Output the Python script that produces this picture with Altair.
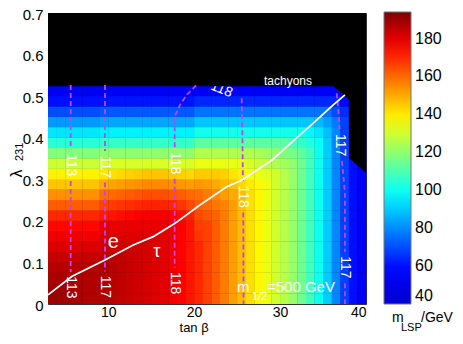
import altair as alt
import pandas as pd

FONT = "Liberation Sans"

# cell edges of the m_LSP map
TANB_EDGES = [3, 4, 5, 6, 7, 8, 9, 10, 11, 12, 13, 14, 15, 16, 17, 18, 19, 20, 21, 22,
              23, 24, 25, 26, 27, 28, 29, 30, 31, 32, 33, 34, 35, 36, 37, 38, 39, 40]
LAMBDA_EDGES = [0.0, 0.025, 0.05, 0.075, 0.1, 0.125, 0.15, 0.175, 0.2, 0.225, 0.25,
                0.275, 0.3, 0.325, 0.35, 0.375, 0.4, 0.425, 0.45, 0.475, 0.5, 0.525]

# m_LSP / GeV, rows from lambda=0 upwards, columns tan(beta)=3..39
M_LSP = [
    [190,190,189,188,187,187, 187,186,185,184,183,182,181,180,178,176,173, 170,166,162,157,152,147,142,138,134,130,126,121,115,108,100,90,79,68,60,54],
    [189,189,189,188,187,187, 187,186,185,184,183,182,181,180,178,176,173, 170,166,162,157,152,147,142,138,134,130,126,121,115,108,100,90,79,68,60,54],
    [188,188,188,188,187,187, 187,186,185,184,183,182,181,180,178,176,173, 170,166,162,157,152,147,142,138,134,130,126,121,115,108,100,90,79,68,60,54],
    [186,186,186,186,186,186, 187,186,185,184,183,182,181,180,178,176,173, 170,166,162,157,152,147,142,138,134,130,126,121,115,108,100,90,79,68,60,54],
    [184,184,184,184,184,184, 185,185,185,184,183,182,181,180,178,176,173, 170,166,162,157,152,147,142,138,134,130,126,121,115,108,100,90,79,68,60,54],
    [181,181,181,181,181,181, 183,183,183,183,183,182,181,180,178,176,173, 170,166,162,157,152,147,142,138,134,130,126,121,115,108,100,90,79,68,60,54],
    [178,178,178,178,178,178, 181,181,181,181,181,181,181,180,178,176,173, 168,166,162,157,152,147,142,138,134,130,126,121,115,108,100,90,79,68,60,54],
    [175,175,175,175,175,175, 179,179,179,179,179,179,179,179,178,176,173, 167,166,162,157,152,147,142,138,134,130,126,121,115,108,100,90,79,68,60,54],
    [170,170,170,170,170,170, 172,173,174,175,176,177,177,177,176,174,171, 165,163,161,157,152,147,142,138,134,130,126,121,115,108,100,90,79,68,60,54],
    [162,162,162,162,162,162, 166,167,168,169,170,171,171,171,170,168,165, 162,160,158,156,152,147,142,138,134,130,126,121,115,108,100,90,79,68,60,54],
    [154,154,154,154,154,154, 159,160,161,162,163,164,164,164,163,162,160, 159,157,155,152,150,147,142,138,134,130,126,121,115,108,100,90,79,68,60,54],
    [146,146,146,146,146,146, 150,151,152,153,154,155,155,155,154,153,152, 153,152,150,148,146,143,140,138,134,130,126,121,115,108,100,90,79,68,60,54],
    [139,139,139,139,139,139, 141,142,143,144,145,146,146,146,145,144,143, 145,145,145,144,141,139,136,134,132,130,126,121,115,108,100,90,79,68,60,54],
    [129,129,129,129,129,129, 131,131,131,131,131,131,131,131,131,131,131, 134,134,134,134,134,133,131,129,127,125,123,120,115,108,100,90,79,68,60,54],
    [118,118,118,118,118,118, 120,120,120,120,120,120,120,120,120,120,120, 125,125,125,125,125,125,125,124,122,120,118,116,113,108,100,90,79,68,60,54],
    [104,104,104,104,104,104, 106,106,106,106,106,106,106,106,106,106,106, 112,112,112,112,112,112,112,112,112,112,112,109,106,103,99,90,79,68,60,54],
    [94,94,94,94,94,94, 96,96,96,96,96,96,96,96,96,96,96, 101,101,101,101,101,101,101,101,101,101,101,101,101,97,94,88,79,68,60,54],
    [82,82,82,82,82,82, 84,84,84,84,84,84,84,84,84,84,84, 89,89,89,89,89,89,89,89,89,89,89,89,89,89,87,83,77,68,60,54],
    [70,70,70,70,70,70, 72,72,72,72,72,72,72,72,72,72,72, 76,76,76,76,76,76,76,76,76,76,76,76,76,76,76,76,70,65,60,54],
    [60,60,60,60,60,60, 61,61,61,61,61,61,61,61,61,61,61, 64,64,64,64,64,64,64,64,64,64,64,64,64,64,64,64,64,59,55,52],
    [53,53,53,53,53,53, 54,54,54,54,54,54,54,54,54,54,54, 55,55,55,55,55,55,55,55,55,55,55,55,55,55,55,55,55,54,50,47],
]

COLOR_STOPS = [40, 58, 98, 137, 176, 194]
COLOR_RANGE = ["#0000d0", "#0000ff", "#00ffff", "#ffff00", "#ff0000", "#800000"]
CBAR_TICKS = [40, 60, 80, 100, 120, 140, 160, 180]
X_TICKS = [10, 20, 30, 40]
Y_TICKS = [0, 0.1, 0.2, 0.3, 0.4, 0.5, 0.6, 0.7]

# tachyonic region boundary (black above it)
TACH_TANB = [3, 36.2, 38.0, 38.02, 40]
TACH_LAMBDA = [0.524, 0.524, 0.492, 0.351, 0.315]
TACH_TOP = 0.7

# dashed Higgs-mass contours (segments between labels)
CONTOUR_SEGMENTS = [
    ("113a", [5.64, 5.64], [0.527, 0.372]),
    ("113b", [5.64, 5.64], [0.296, 0.077]),
    ("117a", [9.63, 9.63], [0.527, 0.368]),
    ("117b", [9.63, 9.63], [0.292, 0.078]),
    ("118a", [17.74, 17.74, 18.36, 19.14, 20.1, 20.35], [0.377, 0.451, 0.479, 0.503, 0.523, 0.527]),
    ("118b", [17.74, 17.74], [0.301, 0.088]),
    ("118c", [25.54, 25.62, 25.68], [0.495, 0.40, 0.296]),
    ("118d", [25.72, 25.75], [0.220, 0.0]),
    ("117c", [36.59, 36.85, 36.92], [0.507, 0.45, 0.420]),
    ("117d", [37.2, 37.55, 37.55], [0.344, 0.267, 0.125]),
    ("117e", [37.55, 37.55], [0.050, 0.0]),
]
LABEL_TEXT = ["113", "117", "118", "113", "117", "118", "118", "117", "117"]
LABEL_TANB = [5.64, 9.63, 17.74, 5.64, 9.63, 17.74, 25.7, 36.97, 37.55]
LABEL_LAMBDA = [0.334, 0.330, 0.339, 0.040, 0.041, 0.050, 0.258, 0.382, 0.088]
TOP_LABEL = ("118", 23.2, 0.516)

# m_1/2 = 500 GeV line
M12_TANB = [3.0, 5.76, 9.63, 12.92, 15.25, 17.78, 20.68, 23.79, 25.54, 29.03, 32.32, 33.87, 36.19, 37.55]
M12_LAMBDA = [0.022, 0.066, 0.106, 0.142, 0.162, 0.194, 0.238, 0.282, 0.298, 0.346, 0.407, 0.435, 0.479, 0.503]

# ---------------------------------------------------------------
cells = []
for i in range(len(LAMBDA_EDGES) - 1):
    for j in range(len(TANB_EDGES) - 1):
        cells.append(dict(x0=TANB_EDGES[j], x1=TANB_EDGES[j + 1],
                          y0=LAMBDA_EDGES[i], y1=LAMBDA_EDGES[i + 1], m=M_LSP[i][j]))
heat_df = pd.DataFrame(cells)

tach_df = pd.DataFrame(dict(x=TACH_TANB, y=TACH_LAMBDA, top=[TACH_TOP] * len(TACH_TANB)))

crows = []
for name, xs_, ys_ in CONTOUR_SEGMENTS:
    for k, (a, b) in enumerate(zip(xs_, ys_)):
        crows.append(dict(seg=name, x=a, y=b, i=k))
cont_df = pd.DataFrame(crows)
lab_df = pd.DataFrame(dict(t=LABEL_TEXT, x=LABEL_TANB, y=LABEL_LAMBDA))
toplab_df = pd.DataFrame(dict(t=[TOP_LABEL[0]], x=[TOP_LABEL[1]], y=[TOP_LABEL[2]]))
m12_df = pd.DataFrame(dict(x=M12_TANB, y=M12_LAMBDA, i=list(range(len(M12_TANB)))))

xs = alt.Scale(domain=[3, 40], nice=False, zero=False)
ys = alt.Scale(domain=[0, 0.7], nice=False, zero=False)
cscale = alt.Scale(domain=COLOR_STOPS, range=COLOR_RANGE, interpolate="rgb")

# cells overlap their neighbours by a hair so that no seams show between them
heat = alt.Chart(heat_df).transform_calculate(
    x1e="datum.x1 + 0.04", y1e="datum.y1 + 0.0008"
).mark_rect().encode(
    x=alt.X("x0:Q", scale=xs, axis=alt.Axis(values=X_TICKS, title=None, ticks=False, domain=False,
                                           grid=False, labelFontSize=14, labelPadding=1,
                                           labelFont=FONT, labelColor="black")),
    x2="x1e:Q",
    y=alt.Y("y0:Q", scale=ys, axis=alt.Axis(values=Y_TICKS, format=".1~f", title=None, ticks=False,
                                           domain=False, grid=False, labelFontSize=15, labelPadding=5,
                                           labelOffset=1, labelFont=FONT, labelColor="black")),
    y2="y1e:Q",
    color=alt.Color("m:Q", scale=cscale, legend=alt.Legend(
        type="gradient", title=None, orient="none", legendX=336, legendY=-1, direction="vertical",
        gradientLength=292, gradientThickness=27, values=CBAR_TICKS, labelFontSize=16,
        labelFont=FONT, labelColor="black", labelOffset=4, labelOverlap=False,
        gradientStrokeColor="#777777", gradientStrokeWidth=1, padding=0)),
)

toplab = alt.Chart(toplab_df).mark_text(color="white", fontSize=14, font=FONT, angle=22).encode(
    x=alt.X("x:Q", scale=xs), y=alt.Y("y:Q", scale=ys), text="t:N")

tach = alt.Chart(tach_df).mark_area(color="black", fill="black", opacity=1, interpolate="linear").encode(
    x=alt.X("x:Q", scale=xs), y=alt.Y("y:Q", scale=ys), y2=alt.Y2("top"))

conts = alt.Chart(cont_df).mark_line(color="#bb44ff", strokeWidth=1.8, strokeDash=[5, 3]).encode(
    x=alt.X("x:Q", scale=xs), y=alt.Y("y:Q", scale=ys), detail="seg:N", order="i:Q")

labs = alt.Chart(lab_df).mark_text(color="white", fontSize=14, font=FONT, angle=90).encode(
    x=alt.X("x:Q", scale=xs), y=alt.Y("y:Q", scale=ys), text="t:N")

m12 = alt.Chart(m12_df).mark_line(color="white", strokeWidth=1.8).encode(
    x=alt.X("x:Q", scale=xs), y=alt.Y("y:Q", scale=ys), order="i:Q")


def txt(t, x, y, size, align="center", baseline="middle", angle=0, color="white"):
    d = pd.DataFrame(dict(t=[t], x=[x], y=[y]))
    kw = dict(color=color, fontSize=size, font=FONT, align=align, baseline=baseline, clip=False)
    if angle:
        kw["angle"] = angle
    return alt.Chart(d).mark_text(**kw).encode(
        x=alt.X("x:Q", scale=xs), y=alt.Y("y:Q", scale=ys), text="t:N")


annots = [
    txt("tachyons", 30.92, 0.536, 12),
    txt("e", 10.6, 0.150, 20),
    txt("τ", 15.65, 0.126, 18),
    txt("m", 24.99, 0.0296, 15, align="left", baseline="alphabetic"),
    txt("1/2", 26.73, 0.0096, 11, align="left", baseline="alphabetic"),
    txt("=500 GeV", 28.48, 0.0296, 15, align="left", baseline="alphabetic"),
    txt("tan β", 20.0, -0.0585, 13, color="black"),
    txt("λ", -0.665, 0.314, 16, angle=270, color="black"),
    txt("231", -0.26, 0.366, 11, angle=270, color="black"),
    txt("m", 43.02, -0.0433, 14, align="left", baseline="alphabetic", color="black"),
    txt("LSP", 44.07, -0.065, 11, align="left", baseline="alphabetic", color="black"),
    txt("/GeV", 46.40, -0.0433, 14, align="left", baseline="alphabetic", color="black"),
]

chart = alt.layer(heat, toplab, tach, conts, labs, m12, *annots).properties(
    width=318, height=291,
    autosize=alt.AutoSizeParams(type="none"),
    padding={"left": 40, "top": 5, "right": 89, "bottom": 32},
).configure_view(stroke="#333333", strokeWidth=1, fill="black")

chart.save("out.html", embed_options={"renderer": "svg", "actions": False})
